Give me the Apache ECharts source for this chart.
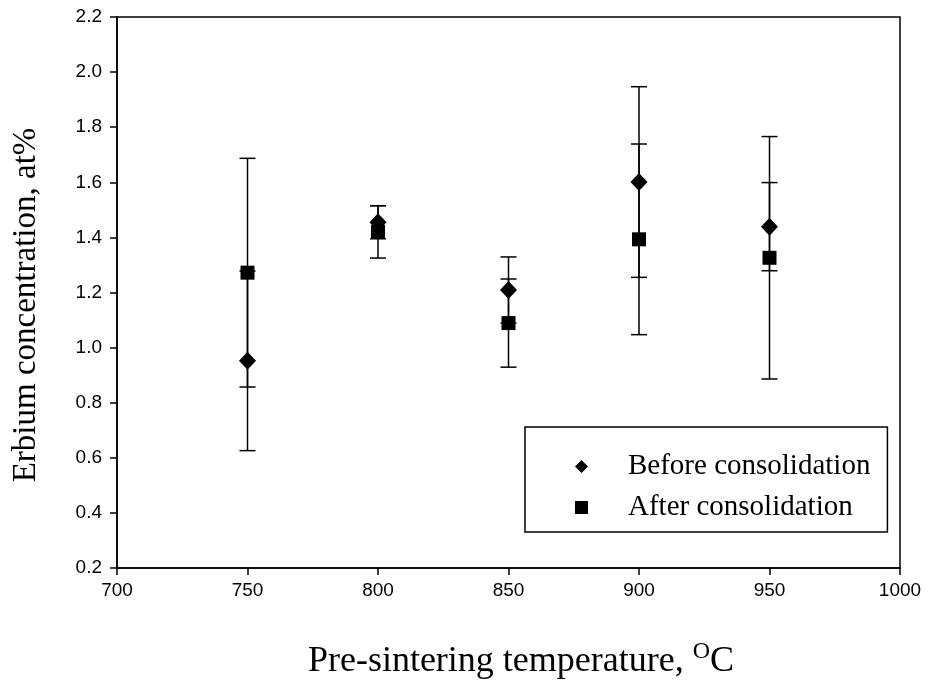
<!DOCTYPE html>
<html>
<head>
<meta charset="utf-8">
<script src="https://cdn.jsdelivr.net/npm/echarts@6/dist/echarts.min.js"></script>
<style>html,body{margin:0;padding:0;background:#fff;}#c{width:934px;height:684px;}</style>
</head>
<body>
<div id="c"></div>
<script>
var temps = [750, 800, 850, 900, 950];
var beforeVals = [0.952, 1.455, 1.209, 1.601, 1.439];
var beforeErr = [0.326, 0.06, 0.12, 0.346, 0.16];
var afterVals = [1.272, 1.42, 1.089, 1.393, 1.326];
var afterErr = [0.415, 0.095, 0.16, 0.346, 0.44];
var xTicks = [700, 750, 800, 850, 900, 950, 1000];
var yTicks = [0.2, 0.4, 0.6, 0.8, 1.0, 1.2, 1.4, 1.6, 1.8, 2.0, 2.2];

function pairs(vals) { return temps.map(function (t, i) { return [t, vals[i]]; }); }
function errData(vals, errs) { return temps.map(function (t, i) { return [t, vals[i] - errs[i], vals[i] + errs[i]]; }); }

function renderErr(params, api) {
  var x = api.value(0);
  var lo = api.coord([x, api.value(1)]);
  var hi = api.coord([x, api.value(2)]);
  var hw = 8;
  var st = { stroke: '#000', lineWidth: 1.5 };
  return {
    type: 'group',
    children: [
      { type: 'line', shape: { x1: lo[0], y1: lo[1], x2: hi[0], y2: hi[1] }, style: st },
      { type: 'line', shape: { x1: lo[0] - hw, y1: lo[1], x2: lo[0] + hw, y2: lo[1] }, style: st },
      { type: 'line', shape: { x1: hi[0] - hw, y1: hi[1], x2: hi[0] + hw, y2: hi[1] }, style: st }
    ]
  };
}

var serif = 'Liberation Serif, Times New Roman, serif';
var sans = 'Liberation Sans, Arial, sans-serif';
var chart = echarts.init(document.getElementById('c'), null, { renderer: 'canvas' });
var axisLine = { show: true, onZero: false, lineStyle: { color: '#000', width: 1.5 } };
chart.setOption({
  animation: false,
  backgroundColor: '#fff',
  grid: { left: 117, right: 34, top: 17, bottom: 116, show: true, borderColor: '#000', borderWidth: 1.5, backgroundColor: 'transparent' },
  xAxis: {
    type: 'value', min: xTicks[0], max: xTicks[xTicks.length - 1], interval: 50,
    axisLine: axisLine,
    axisTick: { show: true, inside: false, length: 7, lineStyle: { color: '#000', width: 1.5 } },
    axisLabel: { color: '#000', fontFamily: sans, fontSize: 19, margin: 13,
      formatter: function (v) { return String(v); } },
    splitLine: { show: false }
  },
  yAxis: {
    type: 'value', min: yTicks[0], max: yTicks[yTicks.length - 1], interval: 0.2,
    axisLine: axisLine,
    axisTick: { show: true, inside: false, length: 7, lineStyle: { color: '#000', width: 1.5 } },
    axisLabel: { color: '#000', fontFamily: sans, fontSize: 19, margin: 15,
      formatter: function (v) { return v.toFixed(1); } },
    splitLine: { show: false }
  },
  legend: {
    orient: 'vertical', left: 525, top: 427,
    padding: [25, 17, 10, 50],
    itemWidth: 13, itemHeight: 13, itemGap: 12,
    borderColor: '#000', borderWidth: 1.5, borderRadius: 0, backgroundColor: '#fff',
    textStyle: { color: '#000', fontFamily: serif, fontSize: 29, lineHeight: 29, padding: [0, 0, 0, 35] },
    data: [
      { name: 'Before consolidation', icon: 'diamond' },
      { name: 'After consolidation', icon: 'rect' }
    ]
  },
  graphic: [
    {
      type: 'text', x: 521, y: 660,
      style: {
        text: '{n|Pre-sintering temperature, }{s|O}{n|C}',
        align: 'center', verticalAlign: 'middle',
        rich: {
          n: { fontFamily: serif, fontSize: 36, fill: '#000', verticalAlign: 'bottom', lineHeight: 40 },
          s: { fontFamily: serif, fontSize: 24, fill: '#000', verticalAlign: 'top', lineHeight: 40, padding: [0, 0, 15, 0] }
        }
      }
    },
    {
      type: 'text', x: 26, y: 305, rotation: Math.PI / 2,
      style: {
        text: 'Erbium concentration, at%',
        fontFamily: serif, fontSize: 33, fill: '#000',
        align: 'center', verticalAlign: 'middle'
      }
    }
  ],
  series: [
    { name: 'errBefore', type: 'custom', renderItem: renderErr, data: errData(beforeVals, beforeErr), z: 1, silent: true },
    { name: 'errAfter', type: 'custom', renderItem: renderErr, data: errData(afterVals, afterErr), z: 1, silent: true },
    { name: 'Before consolidation', type: 'scatter', symbol: 'diamond', symbolSize: [17, 18], data: pairs(beforeVals), itemStyle: { color: '#000', opacity: 1 }, z: 3 },
    { name: 'After consolidation', type: 'scatter', symbol: 'rect', symbolSize: 14, data: pairs(afterVals), itemStyle: { color: '#000', opacity: 1 }, z: 4 }
  ]
});
</script>
</body>
</html>
